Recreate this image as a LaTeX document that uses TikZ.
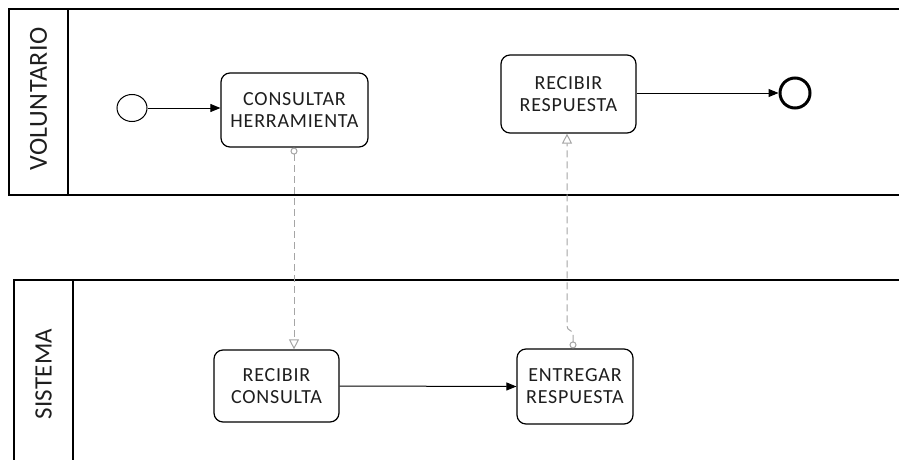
\documentclass[tikz,border=0pt]{standalone}
\usepackage{fontspec}
\setmainfont{Carlito}
\usetikzlibrary{arrows.meta,shapes.geometric}
\definecolor{msggray}{RGB}{165,165,165}
\definecolor{txt}{RGB}{30,30,30}
\begin{document}
\begin{tikzpicture}[x=1pt,y=-1pt,
  poolline/.style={draw=black,line width=1.4pt},
  taskbox/.style={draw=black,line width=1.2pt,rounded corners=9pt,align=center,text=txt,
     font=\fontsize{20}{22}\selectfont\addfontfeatures{LetterSpace=4},inner sep=0pt},
  lanelabel/.style={rotate=90,text=txt,font=\fontsize{26}{30}\selectfont\addfontfeatures{LetterSpace=2}},
  lanelabelS/.style={rotate=90,text=txt,font=\fontsize{25}{30}\selectfont\addfontfeatures{LetterSpace=1}},
  seqflow/.style={draw=black,line width=1pt,-{Triangle[length=10pt,width=8pt]}},
  msgflow/.style={draw=msggray,line width=1pt,dash pattern=on 7pt off 4pt,
     {Circle[open,length=7pt,width=7pt]}-{Triangle[open,length=10pt,width=10pt]}}
]
\useasboundingbox (0,0) rectangle (899,460);
% pools
\draw[poolline] (905,9) -- (9,9) -- (9,195) -- (905,195);
\draw[poolline] (68,9) -- (68,195);
\draw[poolline] (905,280) -- (14,280) -- (14,470);
\draw[poolline] (73,280) -- (73,470);
\node[lanelabel] (lv) at (38.5,99) {VOLUNTARIO};
\node[lanelabelS] (ls) at (43.5,374) {SISTEMA};
% events
\node[draw=black,line width=1pt,ellipse,minimum width=30pt,minimum height=27pt,inner sep=0pt] (start) at (132,108) {};
\node[draw=black,line width=3pt,circle,minimum size=30pt,inner sep=0pt] (end) at (795,93) {};
% tasks
\node[taskbox,minimum width=147pt,minimum height=74pt] (cons) at (294.5,110) {CONSULTAR\\HERRAMIENTA};
\node[taskbox,minimum width=135pt,minimum height=78pt] (recR) at (568.5,94) {RECIBIR\\RESPUESTA};
\node[taskbox,minimum width=125pt,minimum height=72pt] (recC) at (276.5,386) {RECIBIR\\CONSULTA};
\node[taskbox,minimum width=116pt,minimum height=75pt] (entr) at (575,386.5) {ENTREGAR\\RESPUESTA};
% sequence flows
\draw[seqflow] (start.east) -- (start.east -| cons.west);
\draw[seqflow] (recR.east |- end.west) -- (end.west);
\draw[seqflow] (recC.east) -- (entr.west);
% message flows
\coordinate (xa) at (294,0);
\coordinate (xb) at (573,0);
\coordinate (xc) at (567,0);
\coordinate (m1a) at (cons.south -| xa);
\coordinate (m1b) at (recC.north -| xa);
\draw[msgflow] (m1a) -- (m1b);
\coordinate (m2a) at (entr.north -| xb);
\coordinate (m2b) at (recR.south -| xc);
\draw[msgflow] (m2a) -- (573,334) .. controls (573,330) and (567,331) .. (567,326) -- (m2b);
\end{tikzpicture}
\end{document}
